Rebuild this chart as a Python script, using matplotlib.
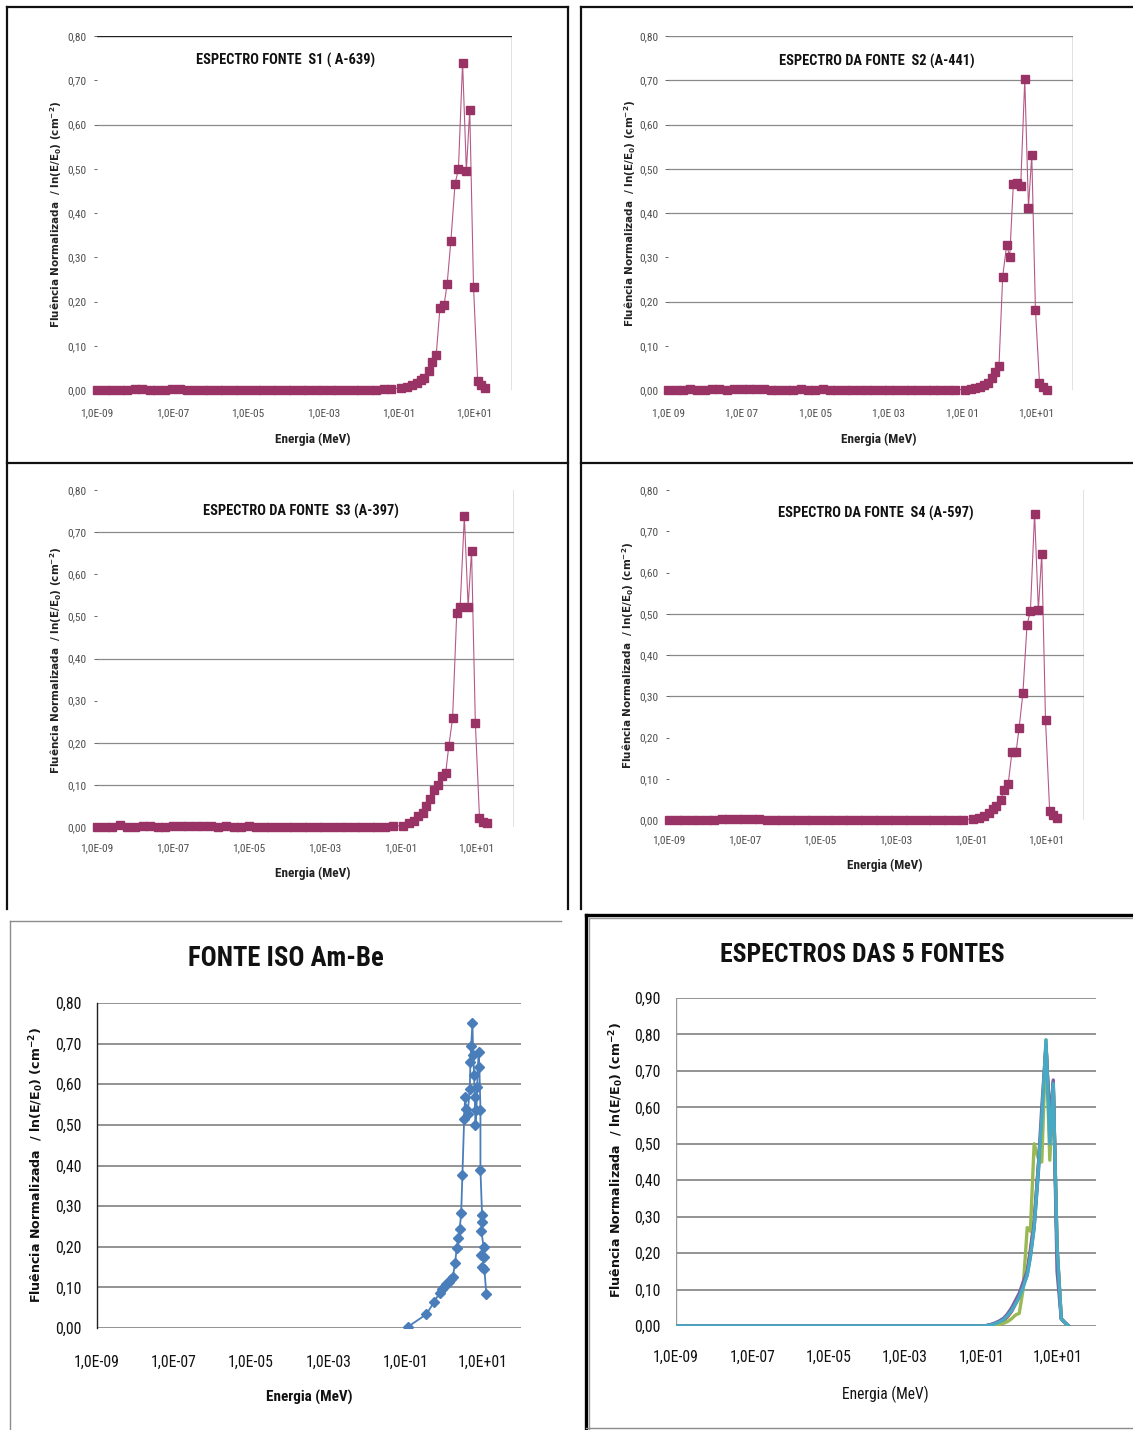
import matplotlib
matplotlib.use("Agg")
import matplotlib.pyplot as plt
from matplotlib.lines import Line2D
from matplotlib.ticker import FixedLocator, NullLocator
from matplotlib import font_manager as fm

# ---------------------------------------------------------------- data
# low-energy bins (MeV), shared by the four source spectra
E_LOW = [1.0e-9, 1.6e-9, 2.5e-9, 4.0e-9, 6.3e-9,
         1.0e-8, 1.6e-8, 2.5e-8, 4.0e-8, 6.3e-8,
         1.0e-7, 1.6e-7, 2.5e-7, 4.0e-7, 6.3e-7,
         1.0e-6, 1.6e-6, 2.5e-6, 4.0e-6, 6.3e-6,
         1.0e-5, 1.6e-5, 2.5e-5, 4.0e-5, 6.3e-5,
         1.0e-4, 1.6e-4, 2.5e-4, 4.0e-4, 6.3e-4,
         1.0e-3, 1.6e-3, 2.5e-3, 4.0e-3, 6.3e-3,
         1.0e-2, 1.6e-2, 2.5e-2, 4.0e-2, 6.3e-2]
# fast-neutron bins (MeV)
E_HIGH = [0.115, 0.166, 0.224, 0.295, 0.389, 0.479, 0.617, 0.776, 0.977, 1.23,
          1.58, 1.91, 2.40, 3.09, 3.80, 4.90, 6.17, 7.59, 9.55, 12.3, 15.1, 19.1]

S1_LOW = [0, 0, 0, 0, 0, 0.002, 0.002, 0, 0, 0,
          0.002, 0.003, 0.001, 0, 0, 0, 0, 0, 0, 0,
          0, 0, 0, 0, 0, 0, 0, 0, 0, 0,
          0, 0, 0, 0, 0, 0, 0.001, 0.001, 0.002, 0.003]
S1_HIGH = [0.004, 0.0075, 0.011, 0.015, 0.023, 0.026, 0.043, 0.063, 0.078, 0.185,
           0.191, 0.240, 0.337, 0.466, 0.499, 0.740, 0.495, 0.633, 0.233, 0.021,
           0.011, 0.004]

S2_LOW = [0, 0, 0, 0.003, 0.001, 0, 0.002, 0.003, 0.001, 0.002,
          0.002, 0.003, 0.002, 0.002, 0.001, 0.001, 0, 0, 0.002, 0,
          0, 0.002, 0.001, 0, 0, 0, 0, 0, 0, 0,
          0, 0, 0, 0, 0, 0, 0, 0, 0, 0.001]
S2_HIGH = [0.001, 0.002, 0.004, 0.0075, 0.011, 0.016, 0.026, 0.041, 0.055, 0.256,
           0.328, 0.301, 0.466, 0.468, 0.462, 0.702, 0.412, 0.531, 0.181, 0.016,
           0.0075, 0.0]

S3_LOW = [0, 0, 0, 0.004, 0, 0, 0.003, 0.002, 0, 0,
          0.003, 0.003, 0.003, 0.003, 0.003, 0.003, 0, 0.002, 0, 0,
          0.002, 0, 0, 0, 0, 0, 0, 0, 0, 0,
          0, 0, 0, 0, 0, 0, 0, 0.001, 0.001, 0.002]
S3_HIGH = [0.003, 0.009, 0.014, 0.025, 0.034, 0.050, 0.066, 0.088, 0.100, 0.122,
           0.129, 0.193, 0.258, 0.509, 0.523, 0.738, 0.523, 0.656, 0.248, 0.022,
           0.011, 0.009]

S4_LOW = [0, 0, 0, 0, 0, 0.001, 0.001, 0.002, 0.002, 0.002,
          0.002, 0.002, 0.002, 0.001, 0, 0, 0, 0, 0, 0,
          0, 0, 0, 0, 0, 0, 0, 0, 0, 0,
          0, 0, 0, 0, 0, 0, 0, 0, 0.001, 0.001]
S4_HIGH = [0.002, 0.006, 0.010, 0.016, 0.027, 0.035, 0.049, 0.073, 0.087, 0.164,
           0.164, 0.224, 0.307, 0.473, 0.507, 0.743, 0.509, 0.646, 0.242, 0.022,
           0.012, 0.006]

# ISO Am-Be reference spectrum, points in drawing order
ISO_E = [0.117, 0.352, 0.566, 0.776, 0.891, 1.02, 1.16, 1.33, 1.55, 1.70,
         1.95, 2.14, 2.38, 2.57, 2.80, 3.02, 3.35, 3.55, 3.76, 4.15,
         4.68, 4.88, 5.08, 5.50, 5.73, 6.08, 6.31, 6.58, 6.98, 7.28,
         7.94, 8.32, 8.87, 8.87, 9.77, 10.0, 9.33, 10.7, 9.33, 10.7,
         10.0, 11.2, 12.6]
ISO_V = [0.003, 0.034, 0.065, 0.087, 0.095, 0.102, 0.108, 0.113, 0.120, 0.126,
         0.159, 0.196, 0.222, 0.244, 0.282, 0.377, 0.514, 0.569, 0.540, 0.528,
         0.588, 0.656, 0.694, 0.750, 0.672, 0.623, 0.569, 0.500, 0.537, 0.594,
         0.680, 0.643, 0.537, 0.389, 0.278, 0.260, 0.240, 0.200, 0.180, 0.175,
         0.150, 0.145, 0.084]

# the five spectra overlaid (flat at zero below the first fast bin)
ALL_E = [1.0e-9] + E_HIGH
ALL_BLUE = [0, 0, 0.003, 0.007, 0.012, 0.02, 0.03, 0.045, 0.065, 0.085, 0.11,
            0.14, 0.19, 0.27, 0.42, 0.56, 0.77, 0.55, 0.67, 0.21, 0.02, 0.01, 0.0]
ALL_RED = [0, 0, 0.002, 0.005, 0.01, 0.016, 0.025, 0.04, 0.06, 0.08, 0.11,
           0.15, 0.21, 0.29, 0.44, 0.55, 0.77, 0.56, 0.66, 0.22, 0.02, 0.01, 0.0]
ALL_GREEN = [0, 0, 0.0, 0.002, 0.004, 0.008, 0.012, 0.02, 0.03, 0.035, 0.10,
             0.27, 0.26, 0.50, 0.46, 0.45, 0.785, 0.455, 0.66, 0.21, 0.02, 0.01, 0.0]
ALL_PURPLE = [0, 0, 0.003, 0.008, 0.014, 0.022, 0.033, 0.05, 0.07, 0.09, 0.12,
              0.15, 0.20, 0.28, 0.44, 0.60, 0.77, 0.55, 0.675, 0.15, 0.02, 0.01, 0.0]
ALL_CYAN = [0, 0, 0.002, 0.006, 0.011, 0.018, 0.028, 0.042, 0.06, 0.08, 0.105,
            0.14, 0.19, 0.27, 0.43, 0.57, 0.785, 0.50, 0.665, 0.22, 0.02, 0.01, 0.0]

X_TICKS = [1e-9, 1e-7, 1e-5, 1e-3, 1e-1, 1e1]
X_LABELS = ["1,0E-09", "1,0E-07", "1,0E-05", "1,0E-03", "1,0E-01", "1,0E+01"]
X_LABELS_S2 = ["1,0E 09", "1,0E 07", "1,0E 05", "1,0E 03", "1,0E 01", "1,0E+01"]
Y_TICKS_08 = [0.0, 0.1, 0.2, 0.3, 0.4, 0.5, 0.6, 0.7, 0.8]
Y_TICKS_09 = Y_TICKS_08 + [0.9]

TITLES = ["ESPECTRO FONTE  S1 ( A-639)", "ESPECTRO DA FONTE  S2 (A-441)",
          "ESPECTRO DA FONTE  S3 (A-397)", "ESPECTRO DA FONTE  S4 (A-597)",
          "FONTE ISO Am-Be", "ESPECTROS DAS 5 FONTES"]
X_TITLE = "Energia (MeV)"
Y_TITLE = r"Fluência Normalizada  / ln(E/E$_\mathregular{0}$) (cm$^\mathregular{-2}$)"

# ---------------------------------------------------------------- fonts
def pick_narrow():
    names = {f.name for f in fm.fontManager.ttflist}
    for n in ["Liberation Sans Narrow", "Roboto Condensed", "Open Sans Condensed"]:
        if n in names:
            return n, "normal"
    for f in fm.fontManager.ttflist:
        if f.name == "DejaVu Sans" and f.stretch in ("condensed", "semi-condensed"):
            return "DejaVu Sans", "condensed"
    return "Lato", "normal"

FAM, STRETCH = pick_narrow()
plt.rcParams["font.family"] = [FAM, "DejaVu Sans"]
plt.rcParams["font.stretch"] = STRETCH
plt.rcParams["mathtext.fontset"] = "dejavusans"
WIDE = ["DejaVu Sans"]

# ---------------------------------------------------------------- canvas
W, H = 1133, 1430
fig = plt.figure(figsize=(W / 100, H / 100), dpi=100)
fig.patch.set_facecolor("white")


def fx(x):
    return x / W


def fy(y):
    return 1 - y / H


def px_axes(x0, y0, x1, y1):
    ax = fig.add_axes([fx(x0), fy(y1), (x1 - x0) / W, (y1 - y0) / H])
    ax.set_facecolor("none")
    return ax


def seg(x0, y0, x1, y1, **kw):
    fig.add_artist(Line2D([fx(x0), fx(x1)], [fy(y0), fy(y1)],
                          transform=fig.transFigure, **kw))


def ftext(x, y, s, **kw):
    fig.text(fx(x), fy(y), s, ha="center", va="center", **kw)


MAROON = "#993366"
LINE_MAROON = "#B45A87"
GRID = "#8A8A8A"


def small_panel(box, e, v, xlabels, grid_vals, top_line, right_line,
                padx, pady):
    x0, y0, x1, y1 = box
    ax = px_axes(x0, y0, x1, y1)
    ax.set_xscale("log")
    ax.set_xlim(1e-9, 1e2)
    ax.set_ylim(0, 0.8)
    for s in ax.spines.values():
        s.set_visible(False)
    for g in grid_vals:
        ax.axhline(g, color=GRID, lw=0.9, zorder=0)
    if top_line:
        ax.axhline(0.8, color=top_line, lw=1.0, zorder=0)
    if right_line:
        ax.axvline(1e2, color="#707070", lw=1.0, zorder=0)
    ax.plot(e, v, color=LINE_MAROON, lw=0.8, marker="s", ms=5.2,
            mfc=MAROON, mec=MAROON, clip_on=False, zorder=3)
    ax.xaxis.set_major_locator(FixedLocator(X_TICKS))
    ax.xaxis.set_minor_locator(NullLocator())
    ax.set_xticklabels(xlabels)
    ax.yaxis.set_major_locator(FixedLocator(Y_TICKS_08))
    ax.set_yticklabels([f"{t:.2f}".replace(".", ",") for t in Y_TICKS_08])
    ax.tick_params(axis="x", length=0, pad=padx, labelsize=8.2, colors="#505050")
    ax.tick_params(axis="y", length=2.5, width=0.6, pad=pady, labelsize=8.2,
                   colors="#505050")
    return ax


LOW_HIGH = E_LOW + E_HIGH

small_panel((97, 36, 512, 390), LOW_HIGH, S1_LOW + S1_HIGH, X_LABELS,
            [0.6], "#202020", True, 13, 5)
small_panel((668, 36, 1073, 390), LOW_HIGH, S2_LOW + S2_HIGH, X_LABELS_S2,
            [0.2, 0.4, 0.5, 0.6, 0.7], GRID, True, 13, 4)
small_panel((97, 490, 514, 827), LOW_HIGH, S3_LOW + S3_HIGH, X_LABELS,
            [0.1, 0.2, 0.4, 0.7], None, True, 12, 5)
small_panel((669, 490, 1084, 820), LOW_HIGH, S4_LOW + S4_HIGH, X_LABELS,
            [0.3, 0.4, 0.5], None, True, 11, 5)

small_title = dict(fontsize=10.4, fontweight="bold", color="#111111")
ftext(286, 60, TITLES[0], **small_title)
ftext(877, 61, TITLES[1], **small_title)
ftext(301, 511, TITLES[2], **small_title)
ftext(876, 513, TITLES[3], **small_title)

small_x = dict(fontsize=9.5, fontweight="bold", color="#222222")
ftext(313, 439, X_TITLE, **small_x)
ftext(879, 439, X_TITLE, **small_x)
ftext(313, 873, X_TITLE, **small_x)
ftext(885, 865, X_TITLE, **small_x)

small_y = dict(fontsize=7.5, fontweight="bold", color="#222222", rotation=90,
               family=WIDE)
ftext(56, 214, Y_TITLE, **small_y)
ftext(630, 213, Y_TITLE, **small_y)
ftext(56, 660, Y_TITLE, **small_y)
ftext(628, 655, Y_TITLE, **small_y)

# ---------------------------------------------------------------- ISO Am-Be
ax = px_axes(97, 1003, 521, 1328)
ax.set_xscale("log")
ax.set_xlim(1e-9, 1e2)
ax.set_ylim(0, 0.8)
for s in ax.spines.values():
    s.set_visible(False)
ax.spines["left"].set_visible(True)
ax.spines["left"].set_color("#202020")
ax.spines["left"].set_linewidth(1.0)
for g in Y_TICKS_08:
    ax.axhline(g, color=GRID, lw=1.3, zorder=0)
ax.plot(ISO_E, ISO_V, color="#4A7EBB", lw=1.3, marker="D", ms=4.6,
        mfc="#4A7EBB", mec="#4A7EBB", zorder=3)
ax.xaxis.set_major_locator(FixedLocator(X_TICKS))
ax.xaxis.set_minor_locator(NullLocator())
ax.set_xticklabels(X_LABELS)
ax.yaxis.set_major_locator(FixedLocator(Y_TICKS_08))
ax.set_yticklabels([f"{t:.2f}".replace(".", ",") for t in Y_TICKS_08])
ax.tick_params(axis="x", length=0, pad=19, labelsize=11.3, colors="#111111")
ax.tick_params(axis="y", length=0, pad=11, labelsize=11.3, colors="#111111")

ftext(286, 958, TITLES[4], fontsize=19.2, fontweight="bold", color="#111111")
ftext(309, 1397, X_TITLE, fontsize=10.9, fontweight="bold", color="#111111")
ftext(37, 1165, Y_TITLE, fontsize=9.1, fontweight="bold", color="#111111",
      rotation=90, family=WIDE)

# ---------------------------------------------------------------- five sources
ax = px_axes(676, 998, 1096, 1326)
ax.set_xscale("log")
ax.set_xlim(1e-9, 1e2)
ax.set_ylim(0, 0.9)
for s in ax.spines.values():
    s.set_visible(False)
for g in Y_TICKS_09:
    ax.axhline(g, color=GRID, lw=1.3, zorder=0)
ax.axvline(1e-9, color="#9A9A9A", lw=1.0, zorder=0)
series = [(ALL_BLUE, "#4A7EBB"), (ALL_RED, "#BE4B48"), (ALL_GREEN, "#98B954"),
          (ALL_PURPLE, "#7D60A0"), (ALL_CYAN, "#46AAC5")]
for vals, col in series:
    ax.plot(ALL_E, vals, color=col, lw=2.4, solid_joinstyle="round", zorder=3)
ax.xaxis.set_major_locator(FixedLocator(X_TICKS))
ax.xaxis.set_minor_locator(NullLocator())
ax.set_xticklabels(X_LABELS)
ax.yaxis.set_major_locator(FixedLocator(Y_TICKS_09))
ax.set_yticklabels([f"{t:.2f}".replace(".", ",") for t in Y_TICKS_09])
ax.tick_params(axis="x", length=0, pad=17, labelsize=11.3, colors="#111111")
ax.tick_params(axis="y", length=0, pad=11, labelsize=11.3, colors="#111111")

ftext(862, 955, TITLES[5], fontsize=18.5, fontweight="bold", color="#111111")
ftext(885, 1394, X_TITLE, fontsize=11.2, color="#111111")
ftext(617, 1160, Y_TITLE, fontsize=9.1, fontweight="bold", color="#111111",
      rotation=90, family=WIDE)

# ---------------------------------------------------------------- frames
BLK = dict(color="#111111", lw=1.6, solid_capstyle="projecting")
# top-left and middle-left boxes
seg(7, 7, 568, 7, **BLK)
seg(7, 7, 7, 909, **BLK)
seg(568, 7, 568, 909, **BLK)
seg(7, 463, 568, 463, **BLK)
# top-right and middle-right boxes
seg(581, 7, 1133, 7, **BLK)
seg(581, 7, 581, 909, **BLK)
seg(581, 463, 1133, 463, **BLK)
# lower-left box (thin grey)
seg(10, 921, 561, 921, color="#8C8C8C", lw=1.0)
seg(10, 921, 10, 1430, color="#8C8C8C", lw=1.0)
# lower-right box (heavy black with grey inner edge)
seg(586, 915, 1133, 915, color="#000000", lw=2.4)
seg(586, 915, 586, 1430, color="#000000", lw=2.4)
seg(589, 918, 1133, 918, color="#9A9A9A", lw=1.0)
seg(589, 918, 589, 1430, color="#9A9A9A", lw=1.0)
seg(586, 1428, 1133, 1428, color="#8C8C8C", lw=1.0)

fig.savefig("out.png", dpi=100, facecolor="white")
